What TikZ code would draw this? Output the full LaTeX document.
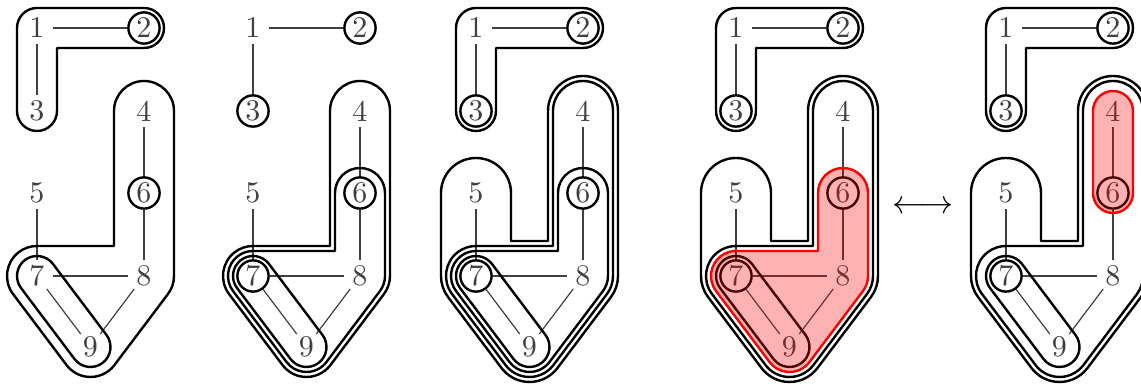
\documentclass[tikz,border=0pt]{standalone}
\usetikzlibrary{calc}
% outline of the L-shaped hull around 1-2 and 1-3
\newcommand\shapeL[2]{($(#1-3.center)+(180:#2)$) -- ($(#1-1.center)+(180:#2)$) arc[start angle=180,end angle=270,radius=#2] -- ($(#1-2.center)+(270:#2)$) arc[start angle=270,end angle=450,radius=#2] -- ($(#1-1.center)+(#2,#2)$) -- ($(#1-3.center)+(#2,0)$) arc[start angle=0,end angle=180,radius=#2] -- cycle}
% hull around column (top node #2) to 8 plus triangle 7-8-9
\newcommand\shapeDB[3]{($(#1-#2.center)+(180:#3)$) arc[start angle=180,end angle=360,radius=#3] -- ($(#1-8.center)+(0:#3)$) arc[start angle=0,end angle=37,radius=#3] -- ($(#1-9.center)+(37:#3)$) arc[start angle=37,end angle=143,radius=#3] -- ($(#1-7.center)+(143:#3)$) arc[start angle=143,end angle=270,radius=#3] -- ($(#1-8.center)+(-#3,-#3)$) -- cycle}
% hull around 5-7, 4-8 and triangle
\newcommand\shapeE[2]{($(#1-5.center)+(180:#2)$) arc[start angle=180,end angle=360,radius=#2] -- ($(#1-7.center)+(#2,-#2)$) -- ($(#1-8.center)+(-#2,-#2)$) -- ($(#1-4.center)+(180:#2)$) arc[start angle=180,end angle=360,radius=#2] -- ($(#1-8.center)+(0:#2)$) arc[start angle=0,end angle=37,radius=#2] -- ($(#1-9.center)+(37:#2)$) arc[start angle=37,end angle=143,radius=#2] -- ($(#1-7.center)+(143:#2)$) arc[start angle=143,end angle=180,radius=#2] -- cycle}
% stadium 7-9
\newcommand\shapeSevNine[2]{($(#1-7.center)+(143:#2)$) arc[start angle=143,end angle=323,radius=#2] -- ($(#1-9.center)+(323:#2)$) arc[start angle=323,end angle=503,radius=#2] -- cycle}
% stadium 4-6
\newcommand\shapeFourSix[2]{($(#1-6.center)+(180:#2)$) -- ($(#1-4.center)+(180:#2)$) arc[start angle=180,end angle=360,radius=#2] -- ($(#1-6.center)+(0:#2)$) arc[start angle=0,end angle=180,radius=#2] -- cycle}
% nodes and edges of one panel
\newcommand\panelgraph[4]{%
  \node[vtx] (#1-1) at (#2+37,28) {1};
  \node[vtx,ringed] (#1-2) at (#2+144,28) {2};
  \node[vtx,#3] (#1-3) at (#2+37,111) {3};
  \node[vtx] (#1-4) at (#2+144,111) {4};
  \node[vtx] (#1-5) at (#2+37,193) {5};
  \node[vtx,ringed] (#1-6) at (#2+144,193) {6};
  \node[vtx,#4] (#1-7) at (#2+37,276) {7};
  \node[vtx] (#1-8) at (#2+144,276) {8};
  \node[vtx] (#1-9) at (#2+90.5,347) {9};
  \draw[edge] (#1-1) -- (#1-2);
  \draw[edge] (#1-1) -- (#1-3);
  \draw[edge] (#1-4) -- (#1-6);
  \draw[edge] (#1-6) -- (#1-8);
  \draw[edge] (#1-5) -- (#1-7);
  \draw[edge] (#1-7) -- (#1-8);
  \draw[edge] (#1-7) -- (#1-9);
  \draw[edge] (#1-8) -- (#1-9);
}
\tikzset{
  vtx/.style={circle, minimum size=10.4pt, inner sep=0pt, text=black!75},
  ringed/.style={draw=black, line width=0.8pt},
  plain/.style={},
  edge/.style={draw=black!75, line width=0.4pt},
  hull/.style={draw=black, line width=0.8pt, line join=round},
  sel/.style={draw=red, line width=0.8pt, line join=round, fill=red, fill opacity=0.3},
}
\begin{document}
\begin{tikzpicture}[x=0.333pt, y=-0.333pt]
\path[use as bounding box] (0,0) rectangle (1141,386);
% panel 1
\panelgraph{pa}{0}{plain}{plain}
\draw[hull] \shapeL{pa}{20};
\draw[hull] \shapeSevNine{pa}{20};
\draw[hull] \shapeDB{pa}{4}{30};
% panel 2
\panelgraph{pb}{216}{ringed}{ringed}
\draw[hull] \shapeSevNine{pb}{20};
\draw[hull] \shapeDB{pb}{6}{25};
\draw[hull] \shapeDB{pb}{4}{30};
% panel 3
\panelgraph{pc}{439}{ringed}{ringed}
\draw[hull] \shapeL{pc}{20};
\draw[hull] \shapeSevNine{pc}{20};
\draw[hull] \shapeDB{pc}{6}{25};
\draw[hull] \shapeDB{pc}{4}{30};
\draw[hull] \shapeE{pc}{35};
% panel 4
\panelgraph{pd}{699}{ringed}{ringed}
\draw[hull] \shapeL{pd}{20};
\draw[hull] \shapeSevNine{pd}{20};
\draw[hull] \shapeDB{pd}{4}{30};
\draw[hull] \shapeE{pd}{35};
\path[sel] \shapeDB{pd}{6}{25};
% arrow
\node[scale=1.1] (swap) at (923,207) {$\longleftrightarrow$};
% panel 5
\panelgraph{pe}{969}{ringed}{ringed}
\draw[hull] \shapeL{pe}{20};
\draw[hull] \shapeSevNine{pe}{20};
\draw[hull] \shapeDB{pe}{4}{30};
\draw[hull] \shapeE{pe}{35};
\path[sel] \shapeFourSix{pe}{20};
\end{tikzpicture}
\end{document}
